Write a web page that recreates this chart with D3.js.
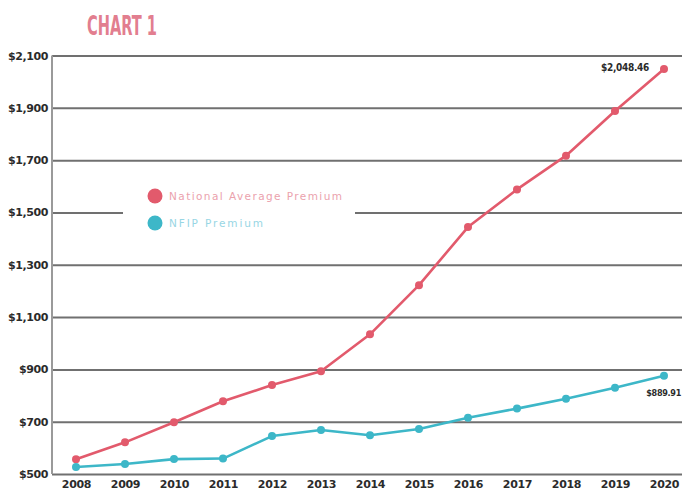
<!DOCTYPE html>
<html>
<head>
<meta charset="utf-8">
<script src="https://cdn.jsdelivr.net/npm/d3@7"></script>
<style>
  body { margin: 0; background: #fff; }
  svg { display: block; }
</style>
</head>
<body>
<script>
const years = [2008, 2009, 2010, 2011, 2012, 2013, 2014, 2015, 2016, 2017, 2018, 2019, 2020];
const national = [556, 621, 698, 778, 840, 893, 1034, 1222, 1444, 1588, 1717, 1888, 2048.46];
const nfip = [527, 538, 557, 559, 645, 668, 648, 672, 715, 750, 788, 830, 876];
const yTicks = [500, 700, 900, 1100, 1300, 1500, 1700, 1900, 2100];
const seriesNames = ["National Average Premium", "NFIP Premium"];
const endLabels = ["$2,048.46", "$889.91"];

const width = 684;
const height = 493;
const red = "#e25a6c";
const blue = "#3db7c8";

const svg = d3
  .select("body")
  .append("svg")
  .attr("width", width)
  .attr("height", height);

// title
svg
  .append("text")
  .attr("x", 87)
  .attr("y", 35)
  .attr("font-family", "DejaVu Sans Condensed, DejaVu Sans")
  .attr("font-weight", "bold")
  .attr("font-size", 27)
  .attr("textLength", 70)
  .attr("lengthAdjust", "spacingAndGlyphs")
  .attr("fill", "#e27e8f")
  .text("CHART 1");

const left = 52;
const right = 682;
const xScale = d3.scalePoint().domain(years).range([76, 664]);
const yScale = d3.scaleLinear().domain([500, 2100]).range([474, 55.5]);

// gridlines + y labels
const yAxis = d3
  .axisLeft(yScale)
  .tickValues(yTicks)
  .tickSize(-(right - left))
  .tickPadding(4)
  .tickFormat((d) => "$" + d3.format(",")(d));
const gy = svg.append("g").attr("transform", `translate(${left},0)`).call(yAxis);
gy.select(".domain").remove();
gy.selectAll(".tick line").attr("stroke", "#707070").attr("stroke-width", 2);
gy.selectAll(".tick text")
  .attr("fill", "#2b2b2b")
  .attr("font-family", "DejaVu Sans")
  .attr("font-weight", "bold")
  .attr("font-size", 11)
  .attr("letter-spacing", -0.4);

// left axis line
svg
  .append("line")
  .attr("x1", left)
  .attr("x2", left)
  .attr("y1", yScale(2100))
  .attr("y2", yScale(500))
  .attr("stroke", "#9a9a9a")
  .attr("stroke-width", 2);

// x labels
const xAxis = d3.axisBottom(xScale).tickSize(0).tickPadding(0);
const gx = svg.append("g").attr("transform", "translate(0,480)").call(xAxis);
gx.select(".domain").remove();
gx.selectAll(".tick text")
  .attr("fill", "#2b2b2b")
  .attr("font-family", "DejaVu Sans")
  .attr("font-weight", "bold")
  .attr("font-size", 11)
  .attr("letter-spacing", -0.3);

// legend box (covers the gridline)
svg
  .append("rect")
  .attr("x", 123)
  .attr("y", 181)
  .attr("width", 232)
  .attr("height", 58)
  .attr("fill", "#fff");

const legend = svg
  .selectAll(".legend")
  .data(seriesNames)
  .enter()
  .append("g")
  .attr("class", "legend")
  .attr("transform", (_, i) => `translate(155,${196 + i * 27})`);
legend
  .append("circle")
  .attr("r", 7.5)
  .attr("fill", (_, i) => [red, blue][i]);
legend
  .append("text")
  .attr("x", 14)
  .attr("dy", "0.35em")
  .attr("font-family", "DejaVu Sans")
  .attr("font-size", 10.5)
  .attr("textLength", (_, i) => [173, 94][i])
  .attr("lengthAdjust", "spacing")
  .attr("fill", (_, i) => ["#eba2ad", "#98d6e4"][i])
  .text((d) => d);

// lines
const line = d3
  .line()
  .x((d, i) => xScale(years[i]))
  .y((d) => yScale(d));

[national, nfip].forEach((values, k) => {
  const color = [red, blue][k];
  svg
    .append("path")
    .datum(values)
    .attr("fill", "none")
    .attr("stroke", color)
    .attr("stroke-width", 2.6)
    .attr("stroke-linejoin", "round")
    .attr("d", line);
  svg
    .append("g")
    .selectAll("circle")
    .data(values)
    .enter()
    .append("circle")
    .attr("cx", (d, i) => xScale(years[i]))
    .attr("cy", (d) => yScale(d))
    .attr("r", 4)
    .attr("fill", color);
});

// end value labels
svg
  .append("text")
  .attr("x", 649)
  .attr("y", 67)
  .attr("dy", "0.35em")
  .attr("text-anchor", "end")
  .attr("font-family", "DejaVu Sans Condensed, DejaVu Sans")
  .attr("font-weight", "bold")
  .attr("font-size", 10)
  .attr("letter-spacing", -0.3)
  .attr("fill", "#2b2b2b")
  .text(endLabels[0]);
svg
  .append("text")
  .attr("x", 681)
  .attr("y", 393)
  .attr("dy", "0.35em")
  .attr("text-anchor", "end")
  .attr("font-family", "DejaVu Sans Condensed, DejaVu Sans")
  .attr("font-weight", "bold")
  .attr("font-size", 9)
  .attr("letter-spacing", -0.3)
  .attr("fill", "#2b2b2b")
  .text(endLabels[1]);
</script>
</body>
</html>
